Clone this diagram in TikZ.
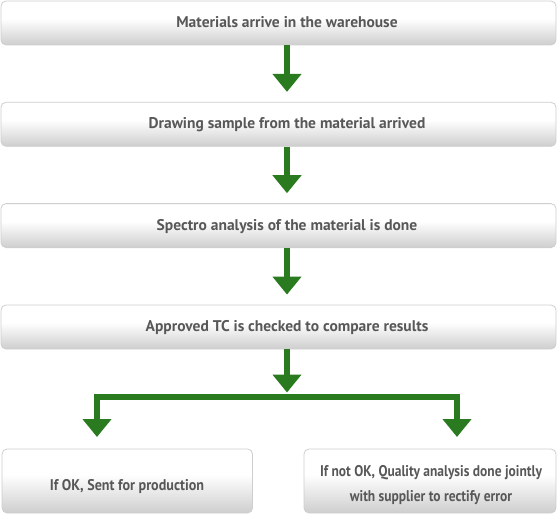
\documentclass[tikz,border=0pt]{standalone}
\usepackage{fontspec}
\setmainfont{PT Sans}
\newfontfamily\narrowA{PT Sans}[FakeStretch=0.91]
\newfontfamily\narrowB{PT Sans}[FakeStretch=0.87]
\usetikzlibrary{arrows.meta}
\definecolor{grn}{RGB}{42,122,32}
\definecolor{txt}{RGB}{88,88,88}
\definecolor{boxline}{RGB}{206,206,206}
\definecolor{boxbot}{RGB}{206,206,206}
\pgfdeclareverticalshading{boxshade}{100bp}{color(0bp)=(boxbot); color(25bp)=(boxbot); color(55bp)=(white); color(100bp)=(white)}
\tikzset{
  box/.style={draw=boxline, line width=0.8pt, rounded corners=5pt, shading=boxshade, inner sep=0pt},
  lbl/.style={text=txt, font=\bfseries\fontsize{15.5}{25}\selectfont, align=center, anchor=base, inner sep=0pt},
  arr/.style={draw=grn, line width=6.5pt, line join=miter, -{Triangle[width=28pt,length=18pt]}},
}
\begin{document}
\begin{tikzpicture}[x=1pt,y=-1pt]
\useasboundingbox (0,0) rectangle (557,516);
\node[box, minimum width=555pt, minimum height=44pt] (b1) at (278.5,23) {};
\node[box, minimum width=555pt, minimum height=44pt] (b2) at (278.5,124.3) {};
\node[box, minimum width=555pt, minimum height=44pt] (b3) at (278.5,225.6) {};
\node[box, minimum width=555pt, minimum height=44pt] (b4) at (278.5,327) {};
\node[box, minimum width=250.5pt, minimum height=64pt] (b5) at (127.3,481) {};
\node[box, minimum width=252pt, minimum height=64pt] (b6) at (430,481) {};
\node[lbl] (t1) at (287,27.7) {Materials arrive in the warehouse};
\node[lbl] (t2) at (287,129) {Drawing sample from the material arrived};
\node[lbl] (t3) at (287,230.3) {Spectro analysis of the material is done};
\node[lbl] (t4) at (287,331.7) {Approved TC is checked to compare results};
\node[lbl, font=\narrowA\bfseries\fontsize{15.5}{25}\selectfont] (t5) at (127,490) {If OK, Sent for production};
\node[lbl, font=\narrowB\bfseries\fontsize{15.5}{25}\selectfont] (t6) at (431,501.7) {If not OK, Quality analysis done jointly\\with supplier to rectify error};
\coordinate (sp) at (287,397);
\coordinate (lc) at (97,397);
\coordinate (rc) at (457,397);
\coordinate (lt) at (97,437);
\coordinate (rt) at (457,437);
\draw[arr, shorten >=10pt] (t1 |- b1.south) -- (t1 |- b2.north);
\draw[arr, shorten >=10pt] (t2 |- b2.south) -- (t2 |- b3.north);
\draw[arr, shorten >=10pt] (t3 |- b3.south) -- (t3 |- b4.north);
\draw[arr, shorten >=4.5pt] (t4 |- b4.south) -- (sp);
\draw[arr, {Triangle[width=28pt,length=18pt]}-{Triangle[width=28pt,length=18pt]}] (lt) -- (lc) -- (rc) -- (rt);
\end{tikzpicture}
\end{document}
